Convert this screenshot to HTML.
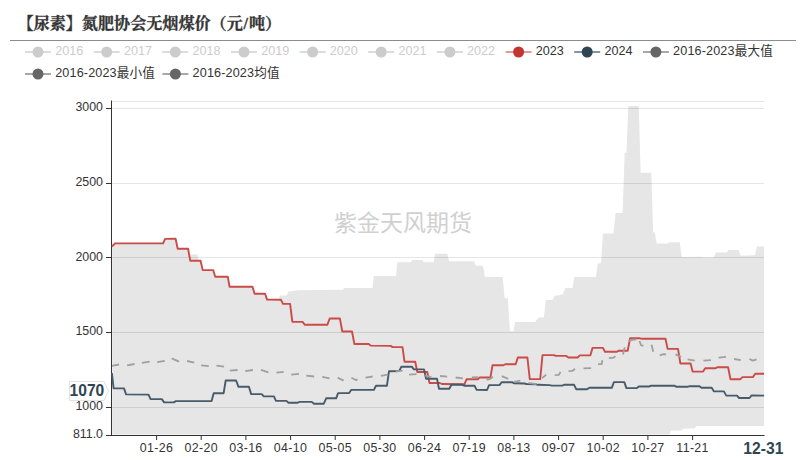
<!DOCTYPE html>
<html lang="zh-CN"><head><meta charset="utf-8"><title>【尿素】氮肥协会无烟煤价（元/吨）</title>
<style>
html,body{margin:0;padding:0;background:#fff}
body{width:806px;height:460px;position:relative;overflow:hidden;font-family:"Liberation Sans","Noto Sans CJK SC",sans-serif}
.sans{font-family:"Liberation Sans","Noto Sans CJK SC",sans-serif}
.title{position:absolute;left:17.5px;top:12px;-webkit-text-stroke:0.3px #333;font-family:"Liberation Serif","Noto Serif CJK SC",serif;font-weight:bold;font-size:16.1px;line-height:24px;color:#333;white-space:nowrap;margin:0}
</style></head><body>
<h1 class="title">【尿素】氮肥协会无烟煤价（元<span style="margin:0 0.8px">/</span>吨）</h1>
<svg width="806" height="460" viewBox="0 0 806 460" style="position:absolute;left:0;top:0">
<line x1="10" y1="40.5" x2="796" y2="40.5" stroke="#8c8c8c" stroke-width="1"/>
<text x="403" y="230.5" text-anchor="middle" font-size="23" fill="#d0d0d0" class="sans">紫金天风期货</text>
<polygon points="112.2,246.5 115.0,243.4 163.1,243.4 165.1,238.9 175.6,238.8 177.7,248.7 188.1,248.7 189.3,254.5 197.5,254.5 198.5,260.7 200.6,260.7 202.7,270.1 213.2,270.1 215.2,276.8 227.8,276.8 229.6,286.8 252.5,286.8 254.6,293.8 265.1,293.8 267.1,299.3 279.0,299.3 279.6,295.5 287.0,295.5 288.3,291.4 298.7,290.3 343.0,289.8 344.3,288.0 372.5,288.0 373.8,276.0 396.0,276.0 397.2,262.2 410.8,262.2 412.1,260.1 422.5,260.1 423.8,262.2 433.7,262.2 435.0,253.8 447.3,253.8 449.1,261.3 473.9,261.3 476.0,265.7 483.0,265.7 484.9,276.9 502.6,276.9 504.7,298.3 507.8,298.3 509.9,331.2 513.5,331.2 515.1,322.0 535.2,322.0 537.0,319.4 539.1,317.4 543.8,317.4 545.9,299.9 552.6,299.9 554.7,295.7 558.6,295.2 563.1,293.9 565.2,287.9 572.5,287.9 574.3,276.9 595.9,276.9 597.8,263.2 601.0,263.2 603.0,233.6 613.5,233.6 615.6,212.9 622.6,212.9 624.7,152.9 626.5,152.9 628.3,106.0 638.8,106.0 640.6,172.7 651.3,172.7 653.1,232.0 654.7,232.8 656.8,243.5 667.7,243.5 669.3,242.2 679.7,242.2 681.8,257.1 700.0,256.8 705.0,257.6 713.9,257.6 715.9,252.4 726.9,252.4 728.7,250.0 738.6,250.0 740.7,255.8 754.8,255.2 756.9,246.4 764.0,246.4 764.0,425.9 696.2,425.9 694.7,428.5 683.2,428.8 682.0,430.5 671.0,430.6 669.4,434.6 112.2,434.6" fill="#e6e6e6"/>
<line x1="111.9" y1="101.5" x2="764" y2="101.5" stroke="#000" stroke-opacity="0.1"/>
<line x1="111.9" y1="108.5" x2="764" y2="108.5" stroke="#000" stroke-opacity="0.1"/>
<line x1="111.9" y1="183.5" x2="764" y2="183.5" stroke="#000" stroke-opacity="0.1"/>
<line x1="111.9" y1="257.5" x2="764" y2="257.5" stroke="#000" stroke-opacity="0.1"/>
<line x1="111.9" y1="332.5" x2="764" y2="332.5" stroke="#000" stroke-opacity="0.1"/>
<line x1="111.9" y1="407.5" x2="764" y2="407.5" stroke="#000" stroke-opacity="0.1"/>
<line x1="111.5" y1="100.5" x2="111.5" y2="436" stroke="#333" stroke-width="1"/>
<line x1="111" y1="435.5" x2="764.5" y2="435.5" stroke="#333" stroke-width="1"/>
<line x1="106" y1="108.5" x2="111" y2="108.5" stroke="#333"/>
<text x="103" y="111.0" text-anchor="end" font-size="12.4" fill="#333" class="sans">3000</text>
<line x1="106" y1="183.5" x2="111" y2="183.5" stroke="#333"/>
<text x="103" y="185.9" text-anchor="end" font-size="12.4" fill="#333" class="sans">2500</text>
<line x1="106" y1="257.5" x2="111" y2="257.5" stroke="#333"/>
<text x="103" y="260.9" text-anchor="end" font-size="12.4" fill="#333" class="sans">2000</text>
<line x1="106" y1="332.5" x2="111" y2="332.5" stroke="#333"/>
<text x="103" y="335.1" text-anchor="end" font-size="12.4" fill="#333" class="sans">1500</text>
<line x1="106" y1="407.5" x2="111" y2="407.5" stroke="#333"/>
<text x="103" y="410.4" text-anchor="end" font-size="12.4" fill="#333" class="sans">1000</text>
<line x1="106" y1="435.5" x2="111" y2="435.5" stroke="#333"/>
<text x="103" y="438.1" text-anchor="end" font-size="12.4" fill="#333" class="sans">811.0</text>
<line x1="156.6" y1="436" x2="156.6" y2="440" stroke="#333"/>
<text x="156.6" y="452" text-anchor="middle" font-size="12.4" letter-spacing="0.35" fill="#333" class="sans">01-26</text>
<line x1="201.2" y1="436" x2="201.2" y2="440" stroke="#333"/>
<text x="201.2" y="452" text-anchor="middle" font-size="12.4" letter-spacing="0.35" fill="#333" class="sans">02-20</text>
<line x1="245.9" y1="436" x2="245.9" y2="440" stroke="#333"/>
<text x="245.9" y="452" text-anchor="middle" font-size="12.4" letter-spacing="0.35" fill="#333" class="sans">03-16</text>
<line x1="290.6" y1="436" x2="290.6" y2="440" stroke="#333"/>
<text x="290.6" y="452" text-anchor="middle" font-size="12.4" letter-spacing="0.35" fill="#333" class="sans">04-10</text>
<line x1="335.2" y1="436" x2="335.2" y2="440" stroke="#333"/>
<text x="335.2" y="452" text-anchor="middle" font-size="12.4" letter-spacing="0.35" fill="#333" class="sans">05-05</text>
<line x1="379.9" y1="436" x2="379.9" y2="440" stroke="#333"/>
<text x="379.9" y="452" text-anchor="middle" font-size="12.4" letter-spacing="0.35" fill="#333" class="sans">05-30</text>
<line x1="424.6" y1="436" x2="424.6" y2="440" stroke="#333"/>
<text x="424.6" y="452" text-anchor="middle" font-size="12.4" letter-spacing="0.35" fill="#333" class="sans">06-24</text>
<line x1="469.2" y1="436" x2="469.2" y2="440" stroke="#333"/>
<text x="469.2" y="452" text-anchor="middle" font-size="12.4" letter-spacing="0.35" fill="#333" class="sans">07-19</text>
<line x1="513.9" y1="436" x2="513.9" y2="440" stroke="#333"/>
<text x="513.9" y="452" text-anchor="middle" font-size="12.4" letter-spacing="0.35" fill="#333" class="sans">08-13</text>
<line x1="558.6" y1="436" x2="558.6" y2="440" stroke="#333"/>
<text x="558.6" y="452" text-anchor="middle" font-size="12.4" letter-spacing="0.35" fill="#333" class="sans">09-07</text>
<line x1="603.2" y1="436" x2="603.2" y2="440" stroke="#333"/>
<text x="603.2" y="452" text-anchor="middle" font-size="12.4" letter-spacing="0.35" fill="#333" class="sans">10-02</text>
<line x1="647.9" y1="436" x2="647.9" y2="440" stroke="#333"/>
<text x="647.9" y="452" text-anchor="middle" font-size="12.4" letter-spacing="0.35" fill="#333" class="sans">10-27</text>
<line x1="692.6" y1="436" x2="692.6" y2="440" stroke="#333"/>
<text x="692.6" y="452" text-anchor="middle" font-size="12.4" letter-spacing="0.35" fill="#333" class="sans">11-21</text>
<text x="763.3" y="453.6" text-anchor="middle" font-size="15.7" font-weight="bold" fill="#2f4554" class="sans">12-31</text>
<polyline points="112.0,246.5 115.0,243.4 163.1,243.4 165.1,238.9 175.6,238.8 177.7,248.7 188.1,248.7 190.2,260.7 200.6,260.7 202.7,270.1 213.2,270.1 215.2,276.8 227.8,276.8 229.6,286.8 252.5,286.8 254.6,293.8 265.1,293.8 267.1,299.6 281.0,299.8 283.0,303.9 290.1,303.9 292.3,321.7 302.6,321.9 304.7,324.7 327.4,324.7 329.7,318.5 339.9,318.5 342.3,331.5 352.0,331.5 354.4,344.0 368.6,344.0 370.7,345.6 390.6,345.9 392.6,347.1 402.5,347.1 404.5,361.7 415.2,361.7 417.3,372.0 427.3,372.0 429.5,383.0 439.8,383.0 441.9,384.0 464.4,384.3 466.5,379.3 477.8,379.3 479.8,377.4 490.4,377.5 492.5,365.3 503.4,365.3 505.3,364.2 515.7,364.2 517.8,357.5 527.4,357.5 529.8,379.1 540.2,379.1 542.5,355.1 553.8,355.1 555.8,355.9 566.3,355.9 568.4,357.5 577.7,357.5 579.8,355.4 590.4,355.2 592.5,347.9 602.9,347.9 605.0,351.8 616.5,351.8 618.6,350.8 627.7,350.8 630.1,338.3 640.0,338.3 642.1,338.8 665.5,338.8 667.6,348.9 678.0,348.9 680.4,363.5 690.6,363.5 692.6,371.6 703.1,371.6 705.2,368.2 715.6,368.2 717.7,367.2 728.1,367.2 730.5,379.2 740.4,379.2 742.5,377.1 752.9,377.1 755.2,373.7 764.1,373.7" fill="none" stroke="#ca4b48" stroke-width="1.9" stroke-linejoin="round"/>
<polyline points="111.9,373.2 113.6,388.4 124.0,388.4 126.1,394.4 148.5,394.6 150.6,399.1 161.8,399.1 164.1,402.4 173.8,402.4 175.9,401.1 211.6,401.1 213.7,393.3 223.6,393.3 225.7,380.5 236.1,380.5 238.5,386.8 248.9,386.8 251.2,394.1 261.7,394.1 263.8,396.4 273.9,396.4 276.0,400.9 286.4,400.9 288.5,402.7 297.7,402.7 299.8,401.9 311.8,401.9 313.9,403.7 323.8,403.7 326.2,398.3 336.1,398.3 338.1,393.1 349.1,393.1 351.2,389.9 373.9,389.9 376.0,385.8 386.9,385.8 389.0,371.2 399.3,371.0 401.4,366.7 411.8,366.7 413.9,369.4 424.0,369.4 426.1,378.8 437.0,378.8 439.0,388.7 449.3,388.7 451.4,384.7 462.0,384.8 464.2,385.7 474.5,385.7 476.7,389.9 487.0,390.0 489.1,385.1 499.5,385.1 501.6,382.2 512.0,382.2 514.1,383.3 524.3,383.5 526.4,384.0 536.0,384.3 538.1,384.8 549.6,385.1 551.7,385.6 562.1,385.6 564.2,384.8 574.1,384.8 576.2,389.2 587.1,389.3 589.3,387.8 611.8,387.8 613.9,382.1 624.3,382.1 626.4,388.1 636.8,388.1 638.9,386.5 649.1,386.5 651.2,385.7 674.4,385.7 676.5,386.8 687.4,386.8 689.5,386.2 699.4,386.2 701.5,387.8 711.7,387.8 714.0,391.4 723.9,391.4 726.3,395.6 737.0,395.6 739.1,398.0 749.5,398.0 751.6,395.4 764.1,395.6" fill="none" stroke="#485b6b" stroke-width="1.9" stroke-linejoin="round"/>
<path d="M112.0 365.8 L119.0 364.5 M127.0 365.3 L134.6 364.0 M141.9 362.9 L149.6 361.6 M157.2 362.1 L164.8 360.8 M171.7 358.4 L179.0 361.6 M187.0 361.0 L194.3 362.6 M201.2 365.3 L208.8 366.1 M216.4 365.6 L224.1 366.6 M229.8 370.6 L237.6 370.0 M245.3 371.1 L252.9 370.0 M261.0 369.8 L268.4 372.4 M276.5 372.7 L283.7 371.9 M291.3 374.7 L299.0 373.9 M306.3 375.6 L314.2 376.5 M322.3 376.8 L329.5 378.4 M337.7 377.6 L342.6 380.3 L343.5 379.3 M351.4 377.8 L356.3 380.2 L357.5 379.1 M365.5 377.6 L372.7 376.5 M380.9 375.9 L387.8 374.6 M395.7 371.6 L402.6 370.7 M409.1 374.6 L416.5 374.1 M425.2 375.4 L431.3 377.2 M440.0 376.0 L447.2 376.7 M455.6 377.5 L462.9 378.3 M471.8 377.5 L478.4 377.1 M486.5 379.5 L490.0 379.0 L492.9 376.8 M501.8 376.1 L508.2 378.9 M513.9 381.8 L520.3 380.6 M528.4 382.9 L536.5 384.2 M542.1 378.1 L546.1 374.8 M554.8 375.2 L558.9 374.8 L560.5 371.9 M568.5 371.1 L572.6 370.8 L575.0 368.7 M583.5 368.4 L591.1 368.2 M598.1 364.2 L601.6 364.2 L602.4 360.3 M608.9 358.2 L613.7 357.7 L615.3 356.1 M622.9 354.5 L624.7 347.4 M629.0 341.3 L630.6 340.0 L636.3 339.4 M639.5 341.0 L641.1 345.3 L643.5 345.6 M651.6 344.8 L653.2 351.8 M659.7 355.3 L663.7 354.2 L666.1 354.5 M675.5 354.4 L681.1 356.9 M687.6 359.4 L694.8 360.6 M703.4 360.6 L711.0 360.2 M718.5 357.7 L726.0 356.9 M734.0 359.0 L740.8 360.2 M749.4 359.0 L752.9 360.6 L756.6 359.4" fill="none" stroke="#a0a0a0" stroke-width="1.8" stroke-linejoin="round"/>
<path d="M69.5 381.5 H104 L108.5 391 L104 400.5 H69.5 Z" fill="#fefefe" stroke="#e2e2e2" stroke-width="1"/>
<text x="104.3" y="396.3" text-anchor="end" font-size="15.6" font-weight="bold" fill="#2f4554" class="sans">1070</text>
<line x1="25.0" y1="52" x2="51.0" y2="52" stroke="#dcdcdc" stroke-width="2"/>
<circle cx="38.0" cy="52" r="5.5" fill="#ccc"/>
<text x="55.2" y="54.8" font-size="12.6" fill="#ccc" class="sans">2016</text>
<line x1="93.7" y1="52" x2="119.7" y2="52" stroke="#dcdcdc" stroke-width="2"/>
<circle cx="106.7" cy="52" r="5.5" fill="#ccc"/>
<text x="123.9" y="54.8" font-size="12.6" fill="#ccc" class="sans">2017</text>
<line x1="162.3" y1="52" x2="188.3" y2="52" stroke="#dcdcdc" stroke-width="2"/>
<circle cx="175.3" cy="52" r="5.5" fill="#ccc"/>
<text x="192.5" y="54.8" font-size="12.6" fill="#ccc" class="sans">2018</text>
<line x1="231.0" y1="52" x2="257.0" y2="52" stroke="#dcdcdc" stroke-width="2"/>
<circle cx="244.0" cy="52" r="5.5" fill="#ccc"/>
<text x="261.2" y="54.8" font-size="12.6" fill="#ccc" class="sans">2019</text>
<line x1="299.6" y1="52" x2="325.6" y2="52" stroke="#dcdcdc" stroke-width="2"/>
<circle cx="312.6" cy="52" r="5.5" fill="#ccc"/>
<text x="329.8" y="54.8" font-size="12.6" fill="#ccc" class="sans">2020</text>
<line x1="368.2" y1="52" x2="394.2" y2="52" stroke="#dcdcdc" stroke-width="2"/>
<circle cx="381.2" cy="52" r="5.5" fill="#ccc"/>
<text x="398.4" y="54.8" font-size="12.6" fill="#ccc" class="sans">2021</text>
<line x1="436.9" y1="52" x2="462.9" y2="52" stroke="#dcdcdc" stroke-width="2"/>
<circle cx="449.9" cy="52" r="5.5" fill="#ccc"/>
<text x="467.1" y="54.8" font-size="12.6" fill="#ccc" class="sans">2022</text>
<line x1="505.6" y1="52" x2="531.6" y2="52" stroke="#e39a98" stroke-width="2"/>
<circle cx="518.6" cy="52" r="5.5" fill="#c23531"/>
<text x="535.8" y="54.8" font-size="12.6" fill="#333" class="sans">2023</text>
<line x1="574.2" y1="52" x2="600.2" y2="52" stroke="#8496a5" stroke-width="2"/>
<circle cx="587.2" cy="52" r="5.5" fill="#2f4554"/>
<text x="604.4" y="54.8" font-size="12.6" fill="#333" class="sans">2024</text>
<line x1="642.9" y1="52" x2="668.9" y2="52" stroke="#a8a8a8" stroke-width="2"/>
<circle cx="655.9" cy="52" r="5.5" fill="#666"/>
<text x="673.1" y="54.8" font-size="12.6" letter-spacing="0.15" fill="#333" class="sans">2016-2023最大值</text>
<line x1="25" y1="74" x2="51" y2="74" stroke="#a8a8a8" stroke-width="2"/>
<circle cx="38" cy="74" r="5.5" fill="#666"/>
<text x="55.2" y="76.8" font-size="12.6" letter-spacing="0.15" fill="#333" class="sans">2016-2023最小值</text>
<line x1="162.4" y1="74" x2="188.4" y2="74" stroke="#a8a8a8" stroke-width="2"/>
<circle cx="175.4" cy="74" r="5.5" fill="#666"/>
<text x="192.6" y="76.8" font-size="12.6" letter-spacing="0.15" fill="#333" class="sans">2016-2023均值</text>
</svg>
</body></html>
